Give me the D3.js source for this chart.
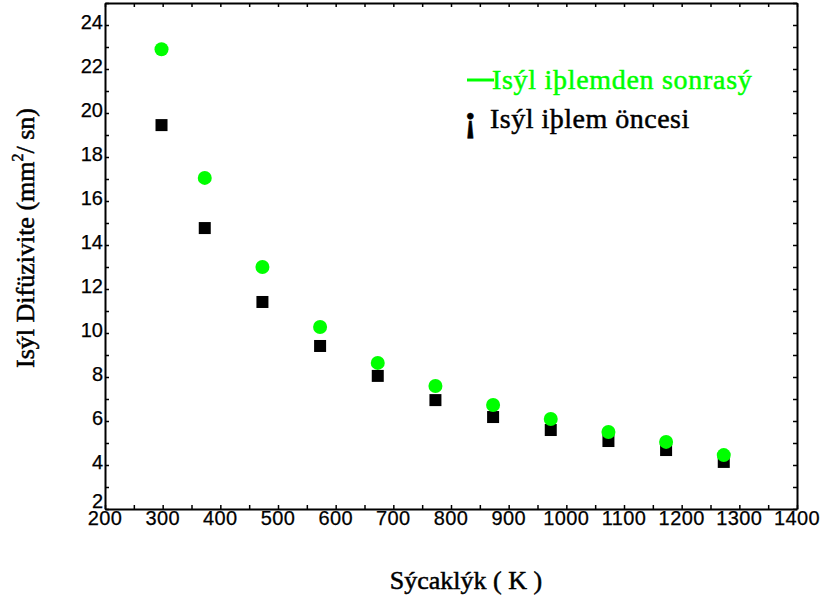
<!DOCTYPE html>
<html>
<head>
<meta charset="utf-8">
<script src="https://cdn.jsdelivr.net/npm/d3@7"></script>
<style>
  html, body { margin: 0; padding: 0; background: #fff; }
  svg { display: block; }
  .tick-label { font-family: "Liberation Sans", Arial, sans-serif; font-size: 20px; fill: #000; stroke: #000; stroke-width: 0.25; }
  .title { font-family: "Liberation Serif", "Times New Roman", serif; fill: #000; stroke: #000; stroke-width: 0.5; }
</style>
</head>
<body>
<svg id="chart" width="823" height="596"></svg>
<script>
// Temperatures (K) and thermal diffusivity (mm²/s)
const temperatures = [298, 373, 473, 573, 673, 773, 873, 973, 1073, 1173, 1273];
const afterTreatment = [22.9, 17.05, 13.0, 10.27, 8.64, 7.59, 6.73, 6.09, 5.5, 5.05, 4.45];
const beforeTreatment = [19.45, 14.77, 11.41, 9.41, 8.05, 6.95, 6.18, 5.59, 5.09, 4.68, 4.14];

const xTickLabels = [200, 300, 400, 500, 600, 700, 800, 900, 1000, 1100, 1200, 1300, 1400];
const yTickLabels = [2, 4, 6, 8, 10, 12, 14, 16, 18, 20, 22, 24];

const seriesNames = ["Isýl iþlemden sonrasý", "Isýl iþlem öncesi"];
const xTitle = "Sýcaklýk ( K )";
const yTitle = "Isýl Difüzivite (mm";

const svg = d3.select("#chart");
const plotLeft = 105, plotRight = 797, plotTop = 3, plotBottom = 509;

const x = d3.scaleLinear().domain([200, 1400]).range([plotLeft, plotRight]);
const y = d3.scaleLinear().domain([2, 25]).range([plotBottom, plotTop]);

const xMinor = d3.range(200, 1401, 50);
const yMinor = d3.range(2, 26, 1);

// Frame axes with small inward ticks
const axisStyle = g => {
  g.selectAll("text").remove();
  g.select(".domain").attr("stroke", "#000").attr("stroke-width", 2);
  g.selectAll(".tick line").attr("stroke", "#000").attr("stroke-width", 1.5);
};

svg.append("g").attr("transform", `translate(0,${plotBottom})`)
  .call(d3.axisBottom(x).tickValues(xMinor).tickSizeInner(-4).tickSizeOuter(0))
  .call(axisStyle);
svg.append("g").attr("transform", `translate(0,${plotTop})`)
  .call(d3.axisTop(x).tickValues(xMinor).tickSizeInner(-4).tickSizeOuter(0))
  .call(axisStyle);
svg.append("g").attr("transform", `translate(${plotLeft},0)`)
  .call(d3.axisLeft(y).tickValues(yMinor).tickSizeInner(-4).tickSizeOuter(0))
  .call(axisStyle);
svg.append("g").attr("transform", `translate(${plotRight},0)`)
  .call(d3.axisRight(y).tickValues(yMinor).tickSizeInner(-4).tickSizeOuter(0))
  .call(axisStyle);

// Tick labels
svg.append("g").selectAll("text").data(xTickLabels).join("text")
  .attr("class", "tick-label")
  .attr("x", d => x(d))
  .attr("y", plotBottom + 16)
  .attr("text-anchor", "middle")
  .attr("letter-spacing", "0.4")
  .text(d => d);

// the lowest label sits just above the bottom frame line
svg.append("g").selectAll("text").data(yTickLabels).join("text")
  .attr("class", "tick-label")
  .attr("x", plotLeft - 2)
  .attr("y", d => Math.min(y(d) + 4, plotBottom - 1))
  .attr("text-anchor", "end")
  .text(d => d);

// Data marks
const before = temperatures.map((t, i) => ({ t, v: beforeTreatment[i] }));
const after = temperatures.map((t, i) => ({ t, v: afterTreatment[i] }));

svg.append("g").selectAll("rect").data(before).join("rect")
  .attr("x", d => x(d.t) - 6)
  .attr("y", d => y(d.v) - 6)
  .attr("width", 12)
  .attr("height", 12)
  .attr("fill", "#000");

svg.append("g").selectAll("circle").data(after).join("circle")
  .attr("cx", d => x(d.t))
  .attr("cy", d => y(d.v))
  .attr("r", 7)
  .attr("fill", "#00ff00");

// Legend
const legend = svg.append("g");
legend.append("line")
  .attr("x1", 467).attr("x2", 494).attr("y1", 80).attr("y2", 80)
  .attr("stroke", "#00ff00").attr("stroke-width", 3);
legend.append("text").attr("class", "title")
  .attr("x", 492).attr("y", 89)
  .attr("font-size", 28).attr("letter-spacing", "0.7")
  .style("fill", "#00ff00").style("stroke", "#00ff00")
  .text(seriesNames[0]);
legend.append("text").attr("class", "title")
  .attr("x", 464).attr("y", 131)
  .attr("font-size", 38).attr("font-weight", "bold")
  .text("¡");
legend.append("text").attr("class", "title")
  .attr("x", 490).attr("y", 128)
  .attr("font-size", 28).attr("letter-spacing", "0.5")
  .text(seriesNames[1]);

// Axis titles
svg.append("text").attr("class", "title")
  .attr("x", 466).attr("y", 589)
  .attr("text-anchor", "middle")
  .attr("font-size", 26)
  .text(xTitle);

const yt = svg.append("text").attr("class", "title")
  .attr("transform", "translate(34,238) rotate(-90)")
  .attr("text-anchor", "middle")
  .attr("font-size", 26);
yt.append("tspan").text(yTitle);
yt.append("tspan").attr("font-size", 16).attr("dy", -11).text("2");
yt.append("tspan").attr("dy", 11).text("/ sn)");
</script>
</body>
</html>
